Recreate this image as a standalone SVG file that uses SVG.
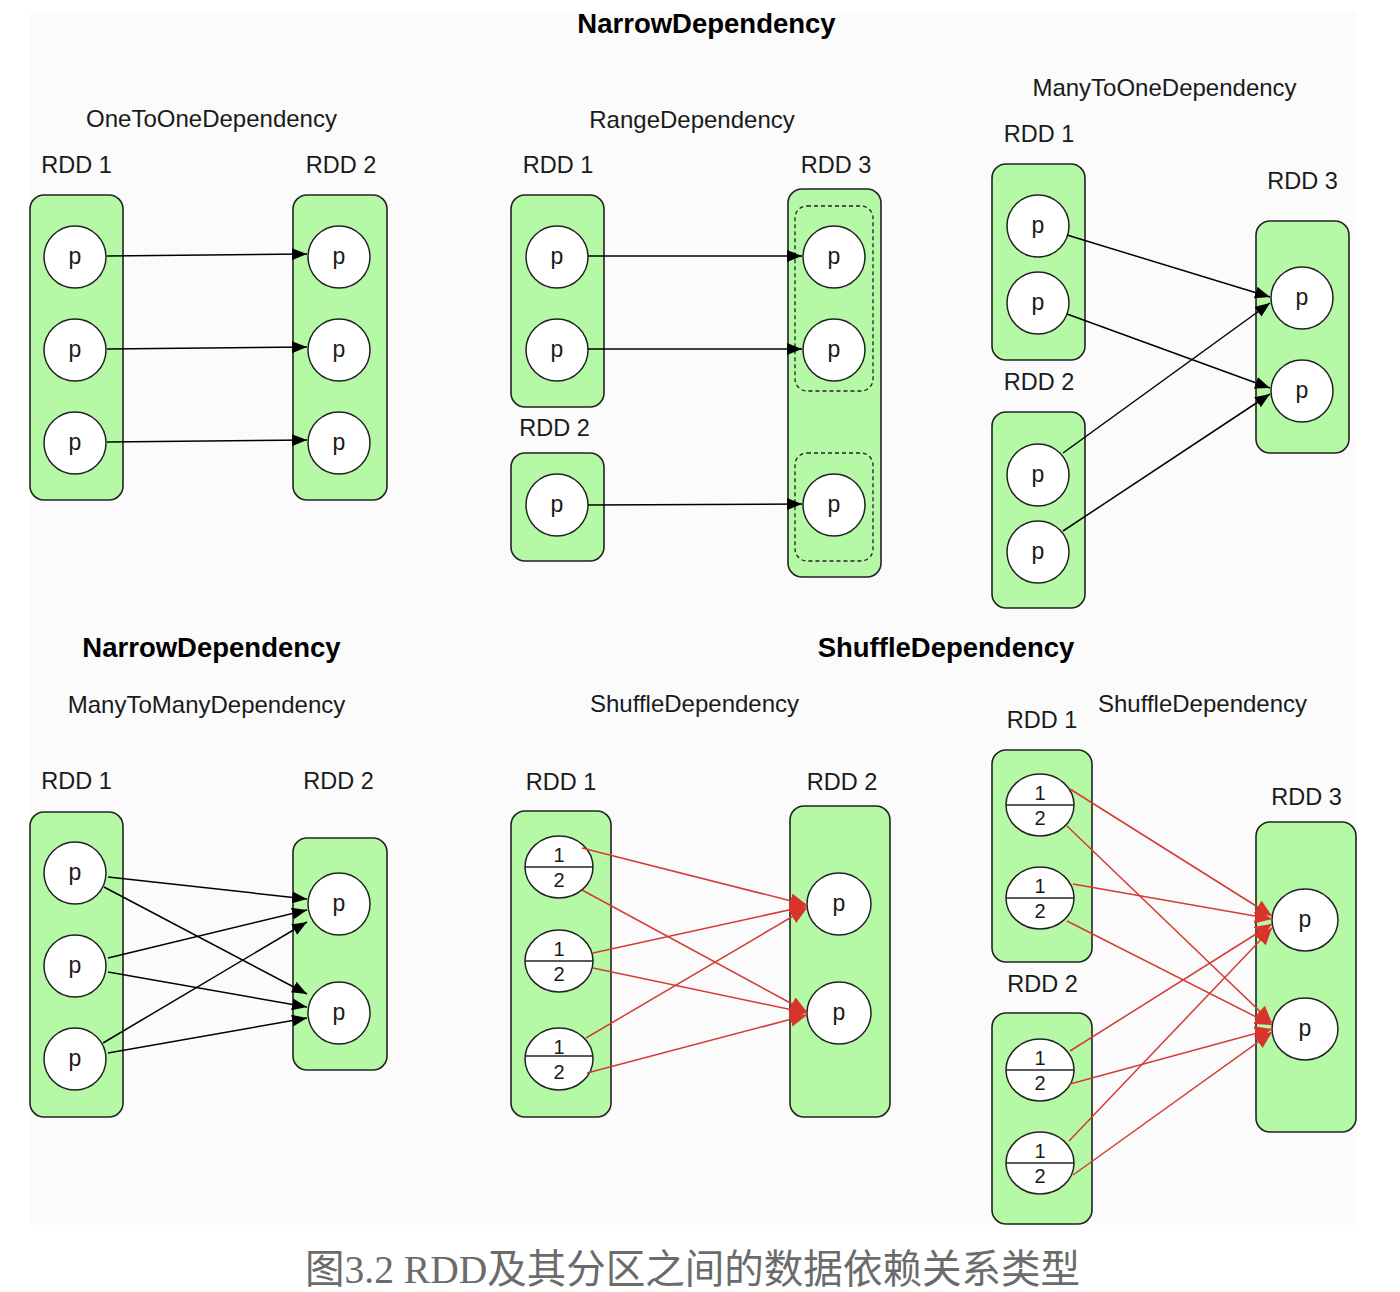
<svg xmlns="http://www.w3.org/2000/svg" width="1400" height="1292" viewBox="0 0 1400 1292">
<defs>
<style>
.bg{fill:#fbfbfb}
.box{fill:#b5f9a6;stroke:#222;stroke-width:1.6}
.dash{fill:none;stroke:#222;stroke-width:1.3;stroke-dasharray:4 3}
.pc{fill:#fff;stroke:#222;stroke-width:1.5}
.div{stroke:#222;stroke-width:1.5}
text{font-family:"Liberation Sans",Arial,Helvetica,sans-serif;fill:#1a1a1a}
.ttl{font-size:27.5px;font-weight:bold;text-anchor:middle;fill:#000}
.dep{font-size:24px;text-anchor:middle}
.rdd{font-size:23.5px;text-anchor:middle}
.p{font-size:23px;text-anchor:middle}
.fr{font-size:20px;text-anchor:middle}
.blk{stroke:#000;stroke-width:1.5;fill:none;marker-end:url(#ab)}
.red{stroke:#d33b34;stroke-width:1.5;fill:none;marker-end:url(#ar)}
.cap{font-family:"Liberation Serif","Noto Sans CJK SC",serif;font-size:40px;fill:#6b6b6b}
</style>
<marker id="ab" markerUnits="userSpaceOnUse" markerWidth="15" markerHeight="12" refX="15" refY="6" orient="auto">
<path d="M0,0 L15,6 L0,12 z" fill="#000"/>
</marker>
<marker id="ar" markerUnits="userSpaceOnUse" markerWidth="17" markerHeight="15" refX="17" refY="7.5" orient="auto">
<path d="M0,0 L17,7.5 L0,15 z" fill="#d9342c"/>
</marker>
</defs>
<rect class="bg" x="30" y="12" width="1327" height="1213"/>

<!-- titles and labels -->
<g id="labels">
<text class="ttl" x="706.5" y="33">NarrowDependency</text>
<text class="dep" x="211.5" y="127">OneToOneDependency</text>
<text class="dep" x="692" y="128">RangeDependency</text>
<text class="dep" x="1164.5" y="96">ManyToOneDependency</text>
<text class="ttl" x="211.5" y="657">NarrowDependency</text>
<text class="ttl" x="946" y="657">ShuffleDependency</text>
<text class="dep" x="206.5" y="713">ManyToManyDependency</text>
<text class="dep" x="694.5" y="712">ShuffleDependency</text>
<text class="dep" x="1202.5" y="712">ShuffleDependency</text>
</g>

<!-- OneToOne -->
<g id="o2o-rdd1">
<text class="rdd" x="76.5" y="173">RDD 1</text>
<rect class="box" x="30" y="195" width="93" height="305" rx="14"/>
<g id="o2o-rdd1-p1"><circle class="pc" cx="75" cy="257" r="31"/><text class="p" x="75" y="264">p</text></g>
<g id="o2o-rdd1-p2"><circle class="pc" cx="75" cy="350" r="31"/><text class="p" x="75" y="357">p</text></g>
<g id="o2o-rdd1-p3"><circle class="pc" cx="75" cy="443" r="31"/><text class="p" x="75" y="450">p</text></g>
</g>
<g id="o2o-rdd2">
<text class="rdd" x="341" y="173">RDD 2</text>
<rect class="box" x="293" y="195" width="94" height="305" rx="14"/>
<g id="o2o-rdd2-p1"><circle class="pc" cx="339" cy="257" r="31"/><text class="p" x="339" y="264">p</text></g>
<g id="o2o-rdd2-p2"><circle class="pc" cx="339" cy="350" r="31"/><text class="p" x="339" y="357">p</text></g>
<g id="o2o-rdd2-p3"><circle class="pc" cx="339" cy="443" r="31"/><text class="p" x="339" y="450">p</text></g>
</g>

<!-- Range -->
<g id="rng-rdd1">
<text class="rdd" x="558" y="173">RDD 1</text>
<rect class="box" x="511" y="195" width="93" height="212" rx="14"/>
<g id="rng-rdd1-p1"><circle class="pc" cx="557" cy="257" r="31"/><text class="p" x="557" y="264">p</text></g>
<g id="rng-rdd1-p2"><circle class="pc" cx="557" cy="350" r="31"/><text class="p" x="557" y="357">p</text></g>
</g>
<g id="rng-rdd2">
<text class="rdd" x="554.5" y="436">RDD 2</text>
<rect class="box" x="511" y="453" width="93" height="108" rx="14"/>
<g id="rng-rdd2-p1"><circle class="pc" cx="557" cy="505" r="31"/><text class="p" x="557" y="512">p</text></g>
</g>
<g id="rng-rdd3">
<text class="rdd" x="836" y="173">RDD 3</text>
<rect class="box" x="788" y="189" width="93" height="388" rx="14"/>
<rect class="dash" x="795" y="206" width="78" height="185" rx="12"/>
<rect class="dash" x="795" y="453" width="78" height="108" rx="12"/>
<g id="rng-rdd3-p1"><circle class="pc" cx="834" cy="257" r="31"/><text class="p" x="834" y="264">p</text></g>
<g id="rng-rdd3-p2"><circle class="pc" cx="834" cy="350" r="31"/><text class="p" x="834" y="357">p</text></g>
<g id="rng-rdd3-p3"><circle class="pc" cx="834" cy="505" r="31"/><text class="p" x="834" y="512">p</text></g>
</g>

<!-- ManyToOne -->
<g id="m2o-rdd1">
<text class="rdd" x="1039" y="142">RDD 1</text>
<rect class="box" x="992" y="164" width="93" height="196" rx="14"/>
<g id="m2o-rdd1-p1"><circle class="pc" cx="1038" cy="226" r="31"/><text class="p" x="1038" y="233">p</text></g>
<g id="m2o-rdd1-p2"><circle class="pc" cx="1038" cy="303" r="31"/><text class="p" x="1038" y="310">p</text></g>
</g>
<g id="m2o-rdd2">
<text class="rdd" x="1039" y="390">RDD 2</text>
<rect class="box" x="992" y="412" width="93" height="196" rx="14"/>
<g id="m2o-rdd2-p1"><circle class="pc" cx="1038" cy="475" r="31"/><text class="p" x="1038" y="482">p</text></g>
<g id="m2o-rdd2-p2"><circle class="pc" cx="1038" cy="552" r="31"/><text class="p" x="1038" y="559">p</text></g>
</g>
<g id="m2o-rdd3">
<text class="rdd" x="1302.5" y="189">RDD 3</text>
<rect class="box" x="1256" y="221" width="93" height="232" rx="14"/>
<g id="m2o-rdd3-p1"><circle class="pc" cx="1302" cy="298" r="31"/><text class="p" x="1302" y="305">p</text></g>
<g id="m2o-rdd3-p2"><circle class="pc" cx="1302" cy="391" r="31"/><text class="p" x="1302" y="398">p</text></g>
</g>

<!-- ManyToMany -->
<g id="m2m-rdd1">
<text class="rdd" x="76.5" y="789">RDD 1</text>
<rect class="box" x="30" y="812" width="93" height="305" rx="14"/>
<g id="m2m-rdd1-p1"><circle class="pc" cx="75" cy="873" r="31"/><text class="p" x="75" y="880">p</text></g>
<g id="m2m-rdd1-p2"><circle class="pc" cx="75" cy="966" r="31"/><text class="p" x="75" y="973">p</text></g>
<g id="m2m-rdd1-p3"><circle class="pc" cx="75" cy="1059" r="31"/><text class="p" x="75" y="1066">p</text></g>
</g>
<g id="m2m-rdd2">
<text class="rdd" x="338.5" y="789">RDD 2</text>
<rect class="box" x="293" y="838" width="94" height="232" rx="14"/>
<g id="m2m-rdd2-p1"><circle class="pc" cx="339" cy="904" r="31"/><text class="p" x="339" y="911">p</text></g>
<g id="m2m-rdd2-p2"><circle class="pc" cx="339" cy="1013" r="31"/><text class="p" x="339" y="1020">p</text></g>
</g>

<!-- Shuffle (middle) -->
<g id="sh1-rdd1">
<text class="rdd" x="561" y="790">RDD 1</text>
<rect class="box" x="511" y="811" width="100" height="306" rx="14"/>
<g id="sh1-rdd1-p1"><ellipse class="pc" cx="559" cy="867" rx="34" ry="31"/><line class="div" x1="525" y1="867" x2="593" y2="867"/><text class="fr" x="559" y="862">1</text><text class="fr" x="559" y="887">2</text></g>
<g id="sh1-rdd1-p2"><ellipse class="pc" cx="559" cy="961" rx="34" ry="31"/><line class="div" x1="525" y1="961" x2="593" y2="961"/><text class="fr" x="559" y="956">1</text><text class="fr" x="559" y="981">2</text></g>
<g id="sh1-rdd1-p3"><ellipse class="pc" cx="559" cy="1059" rx="34" ry="31"/><line class="div" x1="525" y1="1056" x2="593" y2="1056"/><text class="fr" x="559" y="1054">1</text><text class="fr" x="559" y="1079">2</text></g>
</g>
<g id="sh1-rdd2">
<text class="rdd" x="842" y="790">RDD 2</text>
<rect class="box" x="790" y="806" width="100" height="311" rx="14"/>
<g id="sh1-rdd2-p1"><ellipse class="pc" cx="839" cy="904" rx="32" ry="31"/><text class="p" x="839" y="911">p</text></g>
<g id="sh1-rdd2-p2"><ellipse class="pc" cx="839" cy="1013" rx="32" ry="31"/><text class="p" x="839" y="1020">p</text></g>
</g>

<!-- Shuffle (right) -->
<g id="sh2-rdd1">
<text class="rdd" x="1042" y="728">RDD 1</text>
<rect class="box" x="992" y="750" width="100" height="212" rx="14"/>
<g id="sh2-rdd1-p1"><ellipse class="pc" cx="1040" cy="805" rx="34" ry="31"/><line class="div" x1="1006" y1="805" x2="1074" y2="805"/><text class="fr" x="1040" y="800">1</text><text class="fr" x="1040" y="825">2</text></g>
<g id="sh2-rdd1-p2"><ellipse class="pc" cx="1040" cy="898" rx="34" ry="31"/><line class="div" x1="1006" y1="898" x2="1074" y2="898"/><text class="fr" x="1040" y="893">1</text><text class="fr" x="1040" y="918">2</text></g>
</g>
<g id="sh2-rdd2">
<text class="rdd" x="1042.5" y="992">RDD 2</text>
<rect class="box" x="992" y="1013" width="100" height="211" rx="14"/>
<g id="sh2-rdd2-p1"><ellipse class="pc" cx="1040" cy="1070" rx="34" ry="31"/><line class="div" x1="1006" y1="1070" x2="1074" y2="1070"/><text class="fr" x="1040" y="1065">1</text><text class="fr" x="1040" y="1090">2</text></g>
<g id="sh2-rdd2-p2"><ellipse class="pc" cx="1040" cy="1163" rx="34" ry="31"/><line class="div" x1="1006" y1="1163" x2="1074" y2="1163"/><text class="fr" x="1040" y="1158">1</text><text class="fr" x="1040" y="1183">2</text></g>
</g>
<g id="sh2-rdd3">
<text class="rdd" x="1306.5" y="805">RDD 3</text>
<rect class="box" x="1256" y="822" width="100" height="310" rx="14"/>
<g id="sh2-rdd3-p1"><ellipse class="pc" cx="1305" cy="920" rx="33" ry="31"/><text class="p" x="1305" y="927">p</text></g>
<g id="sh2-rdd3-p2"><ellipse class="pc" cx="1305" cy="1029" rx="33" ry="31"/><text class="p" x="1305" y="1036">p</text></g>
</g>

<!-- connectors -->
<g id="connectors">
<line class="blk" x1="107" y1="256" x2="307" y2="254"/>
<line class="blk" x1="107" y1="349" x2="307" y2="347"/>
<line class="blk" x1="107" y1="442" x2="307" y2="440"/>

<line class="blk" x1="588" y1="256" x2="802" y2="256"/>
<line class="blk" x1="588" y1="349" x2="802" y2="349"/>
<line class="blk" x1="588" y1="505" x2="802" y2="504"/>

<line class="blk" x1="1067" y1="235" x2="1270" y2="297"/>
<line class="blk" x1="1067" y1="314" x2="1270" y2="388"/>
<line class="blk" x1="1063" y1="453" x2="1270" y2="303"/>
<line class="blk" x1="1063" y1="531" x2="1270" y2="394"/>

<line class="blk" x1="108" y1="877" x2="307" y2="899"/>
<line class="blk" x1="104" y1="887" x2="307" y2="994"/>
<line class="blk" x1="108" y1="958" x2="307" y2="910"/>
<line class="blk" x1="108" y1="972" x2="307" y2="1007"/>
<line class="blk" x1="103" y1="1043" x2="307" y2="922"/>
<line class="blk" x1="108" y1="1053" x2="307" y2="1018"/>

<line class="red" x1="582" y1="848" x2="807" y2="905"/>
<line class="red" x1="582" y1="890" x2="807" y2="1012"/>
<line class="red" x1="593" y1="953" x2="807" y2="906"/>
<line class="red" x1="593" y1="968" x2="807" y2="1013"/>
<line class="red" x1="586" y1="1038" x2="807" y2="908"/>
<line class="red" x1="587" y1="1073" x2="807" y2="1015"/>

<line class="red" x1="1070" y1="789" x2="1272" y2="916"/>
<line class="red" x1="1067" y1="826" x2="1272" y2="1023"/>
<line class="red" x1="1073" y1="884" x2="1272" y2="919"/>
<line class="red" x1="1067" y1="921" x2="1272" y2="1025"/>
<line class="red" x1="1070" y1="1051" x2="1272" y2="924"/>
<line class="red" x1="1070" y1="1084" x2="1272" y2="1029"/>
<line class="red" x1="1069" y1="1141" x2="1272" y2="928"/>
<line class="red" x1="1073" y1="1175" x2="1272" y2="1032"/>
</g>

<text class="cap" x="305" y="1283" textLength="775" lengthAdjust="spacingAndGlyphs">图3.2 RDD及其分区之间的数据依赖关系类型</text>
</svg>
